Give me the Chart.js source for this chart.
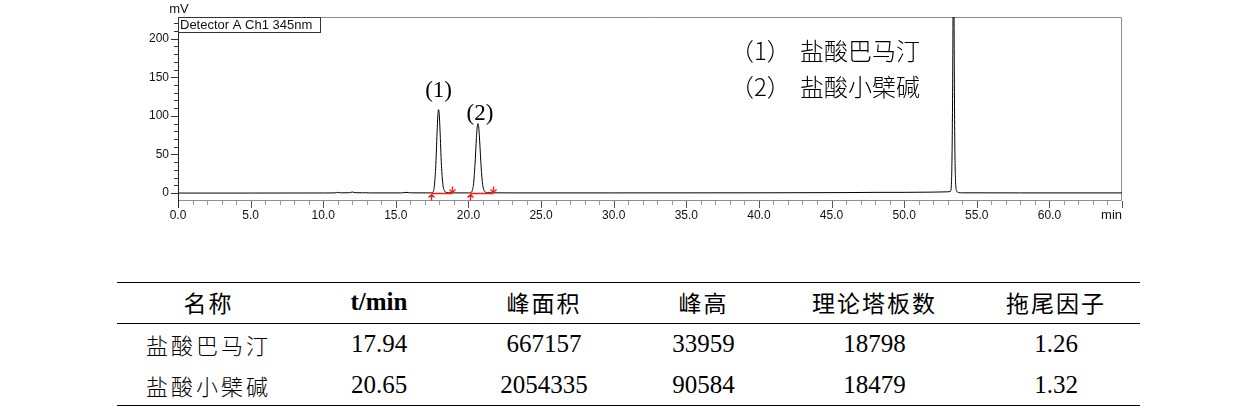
<!DOCTYPE html>
<html>
<head>
<meta charset="utf-8">
<script src="https://cdn.jsdelivr.net/npm/chart.js@4.4.1/dist/chart.umd.min.js"></script>
<style>
  body { margin: 0; background: #fff; width: 1260px; height: 411px; position: relative; overflow: hidden; }
  #chartBox { position: absolute; left: 0; top: 0; width: 1260px; height: 230px; }
  table { position: absolute; left: 117px; top: 282px; width: 1023px; border-collapse: collapse; table-layout: fixed; }
  td, th { text-align: center; padding: 0; color: #000; }
  thead tr { height: 41px; }
  tbody tr { height: 41px; }
  thead th { font: 400 23px "Noto Sans CJK SC", sans-serif; letter-spacing: 2px; border-top: 1.5px solid #000; border-bottom: 1px solid #000; padding-bottom: 3px; }
  thead th.en { font: bold 25px "Liberation Serif", serif; letter-spacing: 0; }
  tbody td { font: 25px "Liberation Serif", serif; }
  tbody td.name { font: 300 22px "Noto Sans CJK SC", sans-serif; letter-spacing: 3px; }
  tbody tr:last-child td { border-bottom: 1.5px solid #000; }
</style>
</head>
<body>
<div id="chartBox"><canvas id="chromChart"></canvas></div>

<table id="peakTable">
  <colgroup>
    <col style="width:183px"><col style="width:158px"><col style="width:172px">
    <col style="width:147px"><col style="width:195px"><col style="width:168px">
  </colgroup>
  <thead><tr></tr></thead>
  <tbody></tbody>
</table>

<script>
// chromatogram trace (time in min, signal in mV)
const times = [0, 5, 10, 10.8, 11.0, 11.2, 11.8, 12.0, 12.2, 12.7, 12.9, 13.1, 15.4, 15.7, 16.0, 17.2,
  17.4, 17.54, 17.64, 17.74, 17.84, 17.89, 17.94, 17.99, 18.04, 18.14, 18.24, 18.34, 18.44, 18.6, 19.0, 20.0,
  20.15, 20.25, 20.35, 20.45, 20.55, 20.6, 20.65, 20.7, 20.75, 20.85, 20.95, 21.05, 21.15, 21.3, 21.6, 23,
  30, 40, 46, 48, 50, 52, 53.0, 53.18, 53.26, 53.32, 53.37, 53.40, 53.43, 53.48, 53.54, 53.62, 53.75, 54.0, 58, 65];
const signal = [0, 0, 0.1, 0.2, 0.9, 0.3, 0.4, 1.3, 0.5, 0.3, 0.5, 0.2, 0.2, 0.9, 0.3, 0.2,
  0.3, 0.9, 7.5, 32, 79, 100, 108, 101, 82, 36, 11, 3.2, 1.1, 0.4, 0.2, 0.2,
  0.5, 2.6, 12, 37, 72, 85, 90, 86, 74, 41, 15, 4.5, 1.4, 0.5, 0.3, 0.2,
  0.2, 0.3, 0.6, 0.9, 0.9, 1.2, 1.6, 2.2, 15, 90, 250, 400, 250, 80, 15, 2.5, 0.6, 0.3, 0.2, 0.2];

// labelled peaks and their integration limits
const peakLabels = ["(1)", "(2)"];
const peakTimes = [17.94, 20.65];
const peakHeights = [108, 90];
const peakStart = [17.39, 20.14];
const peakEnd = [18.88, 21.67];

const legendTags = ["（1）", "（2）"];
const legendNames = ["盐酸巴马汀", "盐酸小檗碱"];

// axes
const xTicks = [0, 5, 10, 15, 20, 25, 30, 35, 40, 45, 50, 55, 60];
const yTicks = [0, 50, 100, 150, 200];
const xRange = [0, 65];
const yRange = [-9, 228];

// table
const tableHeaders = ["名称", "t/min", "峰面积", "峰高", "理论塔板数", "拖尾因子"];
const compounds = ["盐酸巴马汀", "盐酸小檗碱"];
const retention = ["17.94", "20.65"];
const areas = ["667157", "2054335"];
const heights = ["33959", "90584"];
const plates = ["18798", "18479"];
const tailing = ["1.26", "1.32"];

// build table
const headRow = document.querySelector("#peakTable thead tr");
tableHeaders.forEach(h => {
  const th = document.createElement("th");
  th.textContent = h;
  if (h === "t/min") th.className = "en";
  headRow.appendChild(th);
});
const tbody = document.querySelector("#peakTable tbody");
compounds.forEach((name, i) => {
  const tr = document.createElement("tr");
  tr.innerHTML = `
    <td class="name">${name}</td>
    <td>${retention[i]}</td>
    <td>${areas[i]}</td>
    <td>${heights[i]}</td>
    <td>${plates[i]}</td>
    <td>${tailing[i]}</td>
  `;
  tbody.appendChild(tr);
});

const SANS = '"Liberation Sans", Arial, sans-serif';

// frame, tick marks and axis titles
const framePlugin = {
  id: "frame",
  beforeDatasetsDraw(chart) {
    const { ctx, chartArea: a, scales: { x, y } } = chart;
    ctx.save();
    ctx.lineWidth = 1;
    ctx.strokeStyle = "#8f8f8f";
    ctx.beginPath();
    ctx.moveTo(a.left, a.top + 0.5);
    ctx.lineTo(a.right - 0.5, a.top + 0.5);
    ctx.lineTo(a.right - 0.5, a.bottom + 0.5);
    ctx.lineTo(a.left, a.bottom + 0.5);
    ctx.stroke();

    // x ticks, every minute
    for (let v = xRange[0]; v <= xRange[1]; v++) {
      const px = Math.round(x.getPixelForValue(v)) + 0.5;
      const major = v % 5 === 0;
      ctx.strokeStyle = major ? "#555" : "#999";
      ctx.beginPath();
      ctx.moveTo(px, a.bottom + 1);
      ctx.lineTo(px, a.bottom + (major ? 8 : 5));
      ctx.stroke();
    }
    // y ticks, every 10 mV
    for (let v = 0; v <= 220; v += 10) {
      const py = Math.round(y.getPixelForValue(v)) + 0.5;
      const major = v % 50 === 0;
      ctx.strokeStyle = "#333";
      ctx.beginPath();
      ctx.moveTo(a.left - (major ? 7 : 4), py);
      ctx.lineTo(a.left, py);
      ctx.stroke();
    }
    // left axis
    ctx.strokeStyle = "#222";
    ctx.beginPath();
    ctx.moveTo(Math.round(a.left) + 0.5, a.top);
    ctx.lineTo(Math.round(a.left) + 0.5, a.bottom + 8);
    ctx.stroke();

    ctx.fillStyle = "#111";
    ctx.font = "13px " + SANS;
    ctx.textAlign = "center";
    ctx.textBaseline = "middle";
    ctx.fillText("mV", a.left + 1, 9);
    ctx.textAlign = "right";
    ctx.fillText("min", a.right, 215);
    ctx.restore();
  },
  afterDraw(chart) {
    const { ctx, chartArea: a, scales: { x, y } } = chart;
    ctx.save();
    // detector box
    ctx.fillStyle = "#fff";
    ctx.fillRect(a.left + 1, a.top + 1, 141, 14);
    ctx.strokeStyle = "#333";
    ctx.lineWidth = 1;
    ctx.strokeRect(Math.round(a.left) + 0.5, Math.round(a.top) + 0.5, 142, 15);
    ctx.fillStyle = "#111";
    ctx.font = "13px " + SANS;
    ctx.textAlign = "left";
    ctx.textBaseline = "alphabetic";
    ctx.fillText("Detector A Ch1 345nm", a.left + 2, a.top + 12);

    // integration marks
    const by = Math.round(y.getPixelForValue(0)) + 0.5;
    ctx.strokeStyle = "#ff1a1a";
    ctx.lineWidth = 1.3;
    peakStart.forEach((s, i) => {
      const sx = Math.round(x.getPixelForValue(s)) + 0.5;
      const ex = Math.round(x.getPixelForValue(peakEnd[i])) + 0.5;
      ctx.beginPath();
      ctx.moveTo(sx, by); ctx.lineTo(ex, by);
      // up arrow at start
      ctx.moveTo(sx, by + 7); ctx.lineTo(sx, by + 1);
      ctx.moveTo(sx - 3, by + 4); ctx.lineTo(sx, by + 1); ctx.lineTo(sx + 3, by + 4);
      // down arrow at end
      ctx.moveTo(ex, by - 7); ctx.lineTo(ex, by - 1);
      ctx.moveTo(ex - 3, by - 4); ctx.lineTo(ex, by - 1); ctx.lineTo(ex + 3, by - 4);
      ctx.stroke();
    });

    // peak labels
    const offsets = [[0, -19], [2, -10]];
    ctx.fillStyle = "#000";
    ctx.font = '23px "Liberation Serif", serif';
    ctx.textAlign = "center";
    ctx.textBaseline = "middle";
    peakLabels.forEach((lbl, i) => {
      const px = x.getPixelForValue(peakTimes[i]) + offsets[i][0];
      const py = y.getPixelForValue(peakHeights[i]) + offsets[i][1];
      ctx.fillText(lbl, px, py);
    });

    // compound legend
    ctx.font = '300 24px "Noto Sans CJK SC", sans-serif';
    ctx.textAlign = "left";
    legendTags.forEach((t, i) => {
      ctx.fillText(t, 730, 51 + i * 36);
      ctx.fillText(legendNames[i], 800, 51 + i * 36);
    });
    ctx.restore();
  }
};

const ctx = document.getElementById("chromChart").getContext("2d");
new Chart(ctx, {
  type: "line",
  data: {
    datasets: [{
      data: times.map((t, i) => ({ x: t, y: signal[i] })),
      borderColor: "#000",
      borderWidth: 1,
      pointRadius: 0,
      cubicInterpolationMode: "monotone",
      fill: false
    }]
  },
  options: {
    responsive: true,
    maintainAspectRatio: false,
    animation: false,
    layout: { padding: { left: 0, right: 138, top: 17, bottom: 0 } },
    plugins: { legend: { display: false }, tooltip: { enabled: false } },
    scales: {
      x: {
        type: "linear",
        min: xRange[0],
        max: xRange[1],
        grid: { display: false },
        border: { display: false },
        afterBuildTicks: s => { s.ticks = xTicks.map(v => ({ value: v })); },
        afterFit: s => { s.height = 30; },
        ticks: {
          padding: 0,
          maxRotation: 0,
          autoSkip: false,
          color: "#111",
          font: { family: SANS, size: 12 },
          callback: v => Number(v).toFixed(1)
        }
      },
      y: {
        min: yRange[0],
        max: yRange[1],
        grid: { display: false },
        border: { display: false },
        afterBuildTicks: s => { s.ticks = yTicks.map(v => ({ value: v })); },
        afterFit: s => { s.width = 178; },
        ticks: {
          padding: 1,
          color: "#111",
          font: { family: SANS, size: 12 }
        }
      }
    }
  },
  plugins: [framePlugin]
});
</script>
</body>
</html>
